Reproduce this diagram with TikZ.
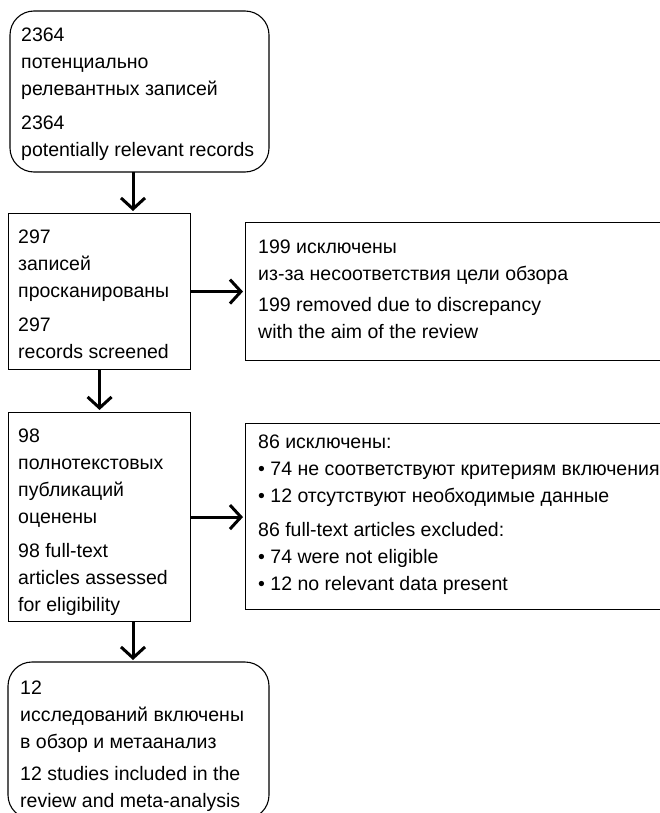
\documentclass[tikz,border=0pt]{standalone}
\usepackage{fontspec}
\setmainfont{Liberation Sans}
\usetikzlibrary{arrows.meta}
\begin{document}
\begin{tikzpicture}[x=1pt,y=-1pt,
  box/.style={draw=black, line width=1.1pt, inner sep=0pt},
  rbox/.style={box, rounded corners=24pt},
  txt/.style={inner sep=0pt, anchor=north west, align=left,
    font=\fontsize{19.5}{27}\selectfont},
  arr/.style={line width=3pt, -{Straight Barb[length=11pt,width=24pt,line width=3pt]}, shorten >=2pt}
]
\useasboundingbox (0,0) rectangle (659,813);
% boxes
\path[rbox] (10,11) rectangle (269,172);
\node[inner sep=0pt, minimum width=259pt, minimum height=161pt, anchor=north west] (b1) at (10,11) {};
\node[box, minimum width=182pt, minimum height=156pt, anchor=north west] (b2) at (8,213) {};
\node[box, minimum width=420pt, minimum height=138pt, anchor=north west] (b3) at (245,222) {};
\node[box, minimum width=182pt, minimum height=209pt, anchor=north west] (b4) at (8,412) {};
\node[box, minimum width=420pt, minimum height=186pt, anchor=north west] (b5) at (245,423) {};
\path[rbox] (8,662) rectangle (269,819);
\node[inner sep=0pt, minimum width=261pt, minimum height=157pt, anchor=north west] (b6) at (8,662) {};
% texts (north = first baseline - 14)
\node[txt] (t1) at (21,28) {2364\\потенциально\\релевантных записей\\[7pt]2364\\potentially relevant records};
\node[txt] (t2) at (18,230) {297\\записей\\просканированы\\[7pt]297\\records screened};
\node[txt] (t3) at (258,240) {199 исключены\\из-за несоответствия цели обзора\\[4pt]199 removed due to discrepancy\\with the aim of the review};
\node[txt] (t4) at (18,429) {98\\полнотекстовых\\публикаций\\оценены\\[7pt]98 full-text\\articles assessed\\for eligibility};
\node[txt] (t5) at (258,435) {86 исключены:\\• 74 не соответствуют критериям включения\\• 12 отсутствуют необходимые данные\\[7pt]86 full-text articles excluded:\\• 74 were not eligible\\• 12 no relevant data present};
\node[txt] (t6) at (20,681) {12\\исследований включены\\в обзор и метаанализ\\[5pt]12 studies included in the\\review and meta-analysis};
% connectors
\coordinate (cx) at (133,0);
\draw[arr] (b1.south -| cx) -- (b2.north -| cx);
\draw[arr] (b2.east) -- (b2.east -| b3.west);
\draw[arr] (b2.south) -- (b4.north);
\draw[arr] (b4.east) -- (b4.east -| b5.west);
\draw[arr] (b4.south -| cx) -- (b6.north -| cx);
\end{tikzpicture}
\end{document}
